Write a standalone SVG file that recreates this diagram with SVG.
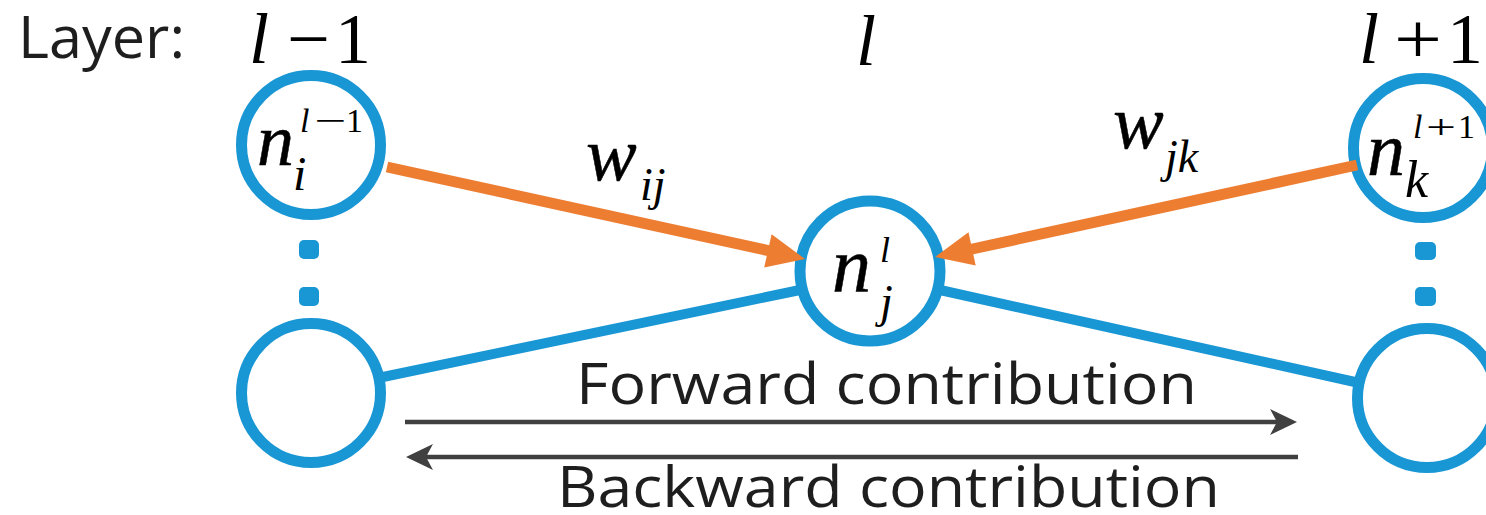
<svg xmlns="http://www.w3.org/2000/svg" width="1486" height="515" viewBox="0 0 1486 515">
<style>
.node{fill:#fff;stroke:#1996d4;stroke-width:11}
.dot{fill:#1996d4}
.blue{stroke:#1996d4;stroke-width:10;fill:none}
.orange{stroke:#ed7d31;stroke-width:11;fill:none}
.oh{fill:#ed7d31}
.gray{stroke:#404040;stroke-width:4.5;fill:none}
.gh{fill:#404040}
.lbl{font-family:"Open Sans","Liberation Sans",sans-serif;font-size:56px;fill:#1e1e1e}
.m{font-family:"Liberation Serif","Times New Roman",serif;font-style:normal;fill:#000}
.mi{font-family:"Liberation Serif","Times New Roman",serif;font-style:italic;fill:#000}
.hv{stroke:#000;stroke-width:0.5}
</style>
<rect width="1486" height="515" fill="#fff"/>
<g id="layer-labels">
<text class="lbl" x="18" y="58" style="font-size:59px" textLength="167" lengthAdjust="spacingAndGlyphs">Layer:</text>
<text class="mi" x="249" y="63" font-size="72">l</text>
<text class="m" x="287" y="63" font-size="72" textLength="43" lengthAdjust="spacingAndGlyphs">−</text>
<text class="m" x="335" y="63" font-size="72">1</text>
<text class="mi" x="856" y="65" font-size="72">l</text>
<text class="mi" x="1359" y="63" font-size="72">l</text>
<text class="m" x="1394" y="63" font-size="72" textLength="48" lengthAdjust="spacingAndGlyphs">+</text>
<text class="m" x="1447" y="63" font-size="72">1</text>
</g>
<g id="node-i-top">
<circle class="node" cx="311" cy="145" r="69.5"/>
<text class="mi hv" x="257" y="165" font-size="74">n</text>
<text class="mi" x="300" y="132" font-size="34">l</text>
<text class="m" x="314" y="132" font-size="34" textLength="32" lengthAdjust="spacingAndGlyphs">−</text>
<text class="m" x="346" y="132" font-size="34">1</text>
<text class="mi" x="293" y="190" font-size="48">i</text>
</g>
<g id="dots-left">
<rect class="dot" x="299" y="240" width="20" height="19" rx="5"/>
<rect class="dot" x="299" y="287" width="20" height="19" rx="5"/>
</g>
<g id="node-left-bottom">
<circle class="node" cx="311" cy="393" r="69.5"/>
</g>
<g id="node-j">
<circle class="node" cx="870" cy="271" r="70"/>
<text class="mi hv" x="832" y="292" font-size="78">n</text>
<text class="mi" x="880" y="262" font-size="36">l</text>
<text class="mi" x="880" y="317" font-size="46">j</text>
</g>
<g id="node-k-top">
<circle class="node" cx="1423" cy="148" r="69.5"/>
<text class="mi hv" x="1367" y="175" font-size="76">n</text>
<text class="mi" x="1413" y="138" font-size="34">l</text>
<text class="m" x="1426" y="138" font-size="34" textLength="30" lengthAdjust="spacingAndGlyphs">+</text>
<text class="m" x="1458" y="138" font-size="34">1</text>
<text class="mi" x="1405" y="197" font-size="52">k</text>
</g>
<g id="dots-right">
<rect class="dot" x="1415" y="242" width="21" height="18" rx="5"/>
<rect class="dot" x="1415" y="287" width="21" height="19" rx="5"/>
</g>
<g id="node-right-bottom">
<circle class="node" cx="1427" cy="398" r="69.5"/>
</g>
<g id="connectors">
<line class="blue" x1="383" y1="377" x2="800" y2="290"/>
<line class="blue" x1="940" y1="290" x2="1355" y2="382"/>
<line class="orange" x1="387" y1="167" x2="770" y2="251"/>
<polygon class="oh" points="805,259 764.2,267.4 771.6,234.2"/>
<line class="orange" x1="1357" y1="165" x2="970" y2="249.5"/>
<polygon class="oh" points="935,257 975.7,265.5 968.5,232.3"/>
<line class="gray" x1="405" y1="422" x2="1285" y2="422"/>
<path class="gh" d="M1297,422 L1270,409 L1277,422 L1270,435 Z"/>
<line class="gray" x1="419" y1="457" x2="1298" y2="457"/>
<path class="gh" d="M406,457 L433,444 L426,457 L433,470 Z"/>
</g>
<g id="weight-labels">
<text class="mi hv" x="586" y="180" font-size="76">w</text>
<text class="mi" x="640" y="200" font-size="46">ij</text>
<text class="mi hv" x="1113" y="148" font-size="76">w</text>
<text class="mi" x="1165" y="172" font-size="46">jk</text>
</g>
<g id="direction-labels">
<text class="lbl" x="576" y="404" textLength="621" lengthAdjust="spacingAndGlyphs">Forward contribution</text>
<text class="lbl" x="557" y="507" textLength="663" lengthAdjust="spacingAndGlyphs">Backward contribution</text>
</g>
</svg>
